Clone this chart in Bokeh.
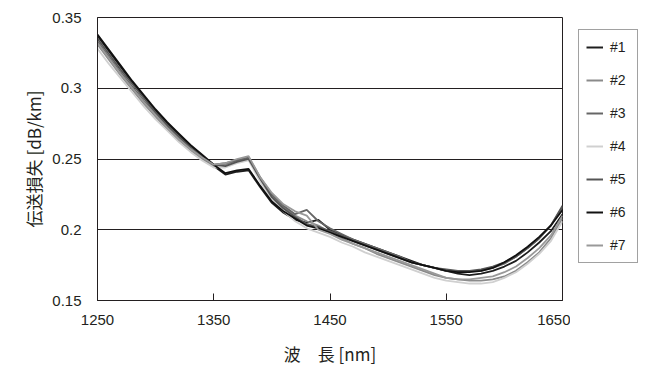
from bokeh.plotting import figure
from bokeh.models import Legend, LegendItem, FixedTicker, Range1d
from bokeh.layouts import row
from bokeh.embed import file_html
from bokeh.resources import INLINE

wavelength = list(range(1250, 1651, 10))

s1 = [.337,.326,.315,.304,.294,.284,.275,.267,.259,.252,.245,.239,.241,.242,.230,.219,.212,.207,.205,.207,.200,.196,.193,.190,.187,.184,.181,.178,.175,.173,.171,.169,.168,.169,.171,.174,.178,.184,.191,.199,.211]
s2 = [.331,.320,.309,.299,.289,.280,.271,.263,.256,.250,.245,.246,.249,.251,.236,.224,.216,.210,.206,.203,.198,.194,.190,.187,.183,.180,.177,.174,.171,.168,.166,.165,.164,.164,.165,.167,.171,.177,.184,.194,.208]
s3 = [.333,.322,.311,.301,.291,.282,.273,.265,.258,.251,.246,.247,.249,.251,.237,.225,.217,.211,.214,.206,.201,.197,.193,.190,.187,.184,.181,.177,.175,.173,.171,.171,.171,.171,.173,.176,.181,.187,.194,.203,.216]
s4 = [.328,.317,.307,.297,.287,.278,.270,.262,.255,.249,.244,.244,.247,.249,.234,.222,.213,.206,.201,.198,.195,.191,.188,.184,.181,.178,.175,.172,.169,.166,.164,.163,.162,.162,.163,.166,.170,.176,.183,.192,.206]
s5 = [.335,.324,.313,.303,.293,.283,.274,.266,.258,.252,.246,.245,.248,.250,.236,.223,.215,.209,.204,.202,.199,.196,.192,.189,.186,.183,.180,.177,.175,.173,.172,.171,.171,.172,.174,.177,.181,.187,.194,.203,.217]
s6 = [.338,.327,.316,.305,.295,.285,.276,.268,.260,.253,.246,.240,.242,.243,.231,.220,.213,.208,.203,.201,.198,.195,.192,.189,.186,.183,.180,.177,.175,.173,.171,.170,.170,.171,.173,.177,.182,.188,.195,.203,.214]
s7 = [.332,.321,.310,.300,.290,.281,.272,.264,.257,.251,.246,.247,.250,.252,.237,.226,.218,.213,.210,.200,.197,.193,.190,.187,.184,.181,.178,.175,.172,.169,.166,.165,.165,.166,.167,.170,.174,.180,.187,.196,.210]

series_names = ["#1", "#2", "#3", "#4", "#5", "#6", "#7"]
series = [s1, s2, s3, s4, s5, s6, s7]
colors = ["#1e1e1e", "#8a8a8a", "#666666", "#d0d0d0", "#555555", "#111111", "#999999"]

x_ticks = [1250, 1350, 1450, 1550, 1650]
y_ticks = [0.15, 0.2, 0.25, 0.3, 0.35]
y_tick_labels = {0.15: "0.15", 0.2: "0.2", 0.25: "0.25", 0.3: "0.3", 0.35: "0.35"}

TXT = "#231f20"
H = 368

p = figure(width=570, height=H, output_backend="svg", toolbar_location=None,
           x_range=Range1d(1250, 1650), y_range=Range1d(0.15, 0.35),
           min_border_left=97, min_border_right=8, min_border_top=17, min_border_bottom=H - 302)

for name, ys, c in zip(series_names, series, colors):
    p.line(wavelength, ys, line_color=c, line_width=1.8)

p.outline_line_color = TXT
p.outline_line_width = 1
p.background_fill_color = "white"
p.border_fill_color = "white"

p.xgrid.grid_line_color = None
p.ygrid.grid_line_color = TXT
p.ygrid.grid_line_width = 1

p.xaxis.ticker = FixedTicker(ticks=x_ticks)
p.yaxis.ticker = FixedTicker(ticks=y_ticks)
p.yaxis.major_label_overrides = y_tick_labels
p.xaxis.minor_tick_line_color = None
p.yaxis.minor_tick_line_color = None
p.yaxis.major_tick_line_color = None
p.xaxis.major_tick_in = 7
p.xaxis.major_tick_out = 0
p.xaxis.major_tick_line_color = TXT
p.axis.axis_line_color = TXT
for ax in (p.xaxis, p.yaxis):
    ax.major_label_text_font = "Liberation Sans"
    ax.major_label_text_font_size = "15px"
    ax.major_label_text_color = TXT
p.yaxis.major_label_standoff = 10
p.xaxis.major_label_standoff = 14

p.xaxis.axis_label = "波　長 [nm]"
p.yaxis.axis_label = "伝送損失 [dB/km]"
for ax in (p.xaxis, p.yaxis):
    ax.axis_label_text_font = "Noto Sans CJK JP"
    ax.axis_label_text_font_size = "17px"
    ax.axis_label_text_font_style = "normal"
    ax.axis_label_text_color = TXT
p.xaxis.axis_label_standoff = 13
p.yaxis.axis_label_standoff = 3

# legend panel to the right of the plot frame (frames of the row are aligned)
q = figure(width=82, height=H, output_backend="svg", toolbar_location=None,
           x_range=Range1d(0, 1), y_range=Range1d(0, 1),
           min_border_left=0, min_border_right=0, min_border_top=17, min_border_bottom=H - 302,
           x_axis_type=None, y_axis_type=None)
q.outline_line_color = None
q.xgrid.grid_line_color = None
q.ygrid.grid_line_color = None
items = []
for name, c in zip(series_names, colors):
    r = q.line([5, 6], [5, 6], line_color=c, line_width=2)
    items.append(LegendItem(label=name, renderers=[r]))

legend = Legend(items=items, location=(8, 302 - 265),
                border_line_color="#444444", border_line_width=1,
                glyph_width=17, glyph_height=20, label_height=20, spacing=13, padding=7,
                label_standoff=7, label_width=20, label_text_font="Liberation Sans",
                label_text_font_size="14px", label_text_color=TXT,
                margin=0)
q.add_layout(legend, "center")

layout = row(p, q)
open("out.html", "w").write(file_html(layout, INLINE))
